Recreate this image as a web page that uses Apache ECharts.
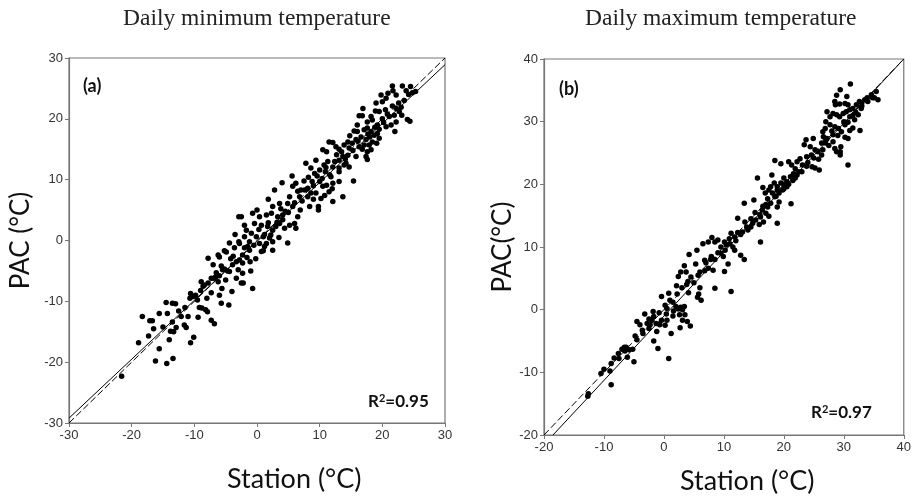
<!DOCTYPE html>
<html><head><meta charset="utf-8">
<script src="https://cdn.jsdelivr.net/npm/echarts@6/dist/echarts.min.js"></script>
<style>html,body{margin:0;padding:0;background:#fff}#c{width:914px;height:502px}</style>
</head><body><div id="c"></div>
<script>
// ---- Data ----
const minTicks = [-30,-20,-10,0,10,20,30];
const maxTicks = [-20,-10,0,10,20,30,40];
// Daily minimum: [station, PAC]
const minPoints = [
[-21.6,-22.3],[-18.9,-16.8],[-18.3,-12.5],[-17.1,-13.2],[-16.7,-13.2],[-17.3,-15.7],[-15.6,-12.0],[-15.6,-17.8],[-16.2,-19.8],[-14.4,-20.2],
[-14.5,-10.2],[-14.3,-12.0],[-13.5,-10.3],[-13.0,-10.4],[-13.5,-13.4],[-13.3,-15.0],[-13.8,-14.9],[-12.9,-14.3],[-13.4,-19.4],[-12.1,-12.5],
[-11.6,-13.9],[-11.3,-14.3],[-11.0,-12.5],[-10.6,-16.8],[-10.1,-15.9],[-10.6,-8.7],[-10.2,-9.2],[-10.7,-9.5],[-9.4,-12.6],[-8.9,-6.8],
[-8.8,-11.1],[-8.2,-11.4],[-7.9,-11.7],[-7.3,-13.1],[-6.8,-13.7],[-7.3,-8.6],[-8.4,-7.3],[-7.8,-2.9],[-7.3,-6.2],[-6.6,-6.0],
[-5.7,-10.3],[-5.6,-7.9],[-4.5,-10.6],[-4.0,-8.4],[-6.0,-2.7],[-5.7,-4.2],[-5.2,-4.7],[-4.7,-5.0],[-4.9,-1.9],[-3.3,-6.2],
[-6.2,-2.4],[-5.2,-1.7],[-3.9,-4.0],[-3.3,-3.5],[-2.8,-3.2],[-4.4,-5.1],[-5.5,-4.8],[-6.5,-5.3],[-6.9,-6.2],[-7.8,-7.0],
[-8.6,-7.5],[-9.8,-9.0],[-9.0,-8.2],[-4.4,-0.4],[-2.9,-0.2],[-2.9,3.9],[-1.2,-1.6],[-2.3,-2.4],[-2.3,-3.7],[-2.3,-5.4],
[-2.5,-7.0],[-2.2,-7.0],[-0.7,-7.9],[-1.1,-3.5],[0.7,-1.8],[1.0,-1.7],[2.5,-1.6],[-2.8,-0.5],[-2.5,3.9],[-1.2,-0.2],
[0.4,-0.5],[1.5,-0.5],[2.5,-0.2],[4.9,-0.4],[-2.0,0.6],[-1.7,1.7],[-0.9,1.2],[-0.1,0.6],[1.0,0.6],[2.0,0.4],
[-0.7,4.5],[0.4,3.9],[-0.4,2.8],[0.7,2.5],[1.7,2.3],[2.5,1.7],[3.0,2.3],[1.5,4.2],[2.3,4.5],[2.5,5.6],
[3.3,3.9],[4.1,4.2],[4.1,3.4],[3.6,2.8],[6.5,3.9],[6.0,2.8],[5.2,2.5],[2.8,8.3],[3.6,6.1],[4.9,6.1],
[5.7,5.6],[5.2,7.2],[6.8,7.2],[6.5,8.1],[5.7,8.9],[5.6,10.6],[6.2,9.4],[7.0,8.3],[8.1,7.2],[8.4,5.6],
[9.8,5.6],[9.8,5.0],[10.2,6.9],[10.5,8.9],[9.4,7.8],[8.6,7.8],[7.6,8.3],[8.1,8.6],[8.8,9.7],[7.8,12.7],
[8.6,11.9],[9.2,11.0],[10.0,9.7],[11.1,9.1],[11.5,8.0],[12.1,6.4],[13.7,7.2],[15.4,9.8],[12.1,9.4],[13.1,9.7],
[13.1,11.3],[10.9,11.3],[10.0,11.6],[9.4,13.2],[10.7,12.4],[11.3,13.0],[12.1,12.1],[15.8,13.8],[14.7,12.1],[13.9,12.4],
[13.1,11.9],[14.2,12.7],[13.7,13.8],[13.1,13.2],[12.7,14.1],[11.1,14.6],[10.5,14.9],[13.1,15.0],[12.6,15.4],[12.1,16.1],
[11.5,16.2],[13.9,15.7],[14.5,16.2],[14.7,15.2],[17.6,13.3],[17.4,13.8],[18.2,14.9],[17.6,14.6],[19.5,16.8],[19.1,16.0],
[18.4,16.2],[17.9,15.7],[17.1,15.7],[16.3,15.4],[15.2,16.0],[15.8,16.6],[16.6,17.0],[17.4,16.6],[18.0,17.0],[19.2,17.6],
[18.7,17.3],[18.2,17.9],[17.6,18.5],[17.1,18.2],[16.0,17.9],[15.5,18.0],[22.0,17.9],[20.6,18.7],[16.3,20.5],[17.6,19.5],
[18.4,19.8],[18.2,20.4],[16.8,20.5],[16.9,21.7],[21.1,20.4],[22.2,19.5],[24.4,19.6],[24.0,19.9],[23.1,20.6],[21.9,20.6],
[22.7,21.2],[22.2,21.7],[21.6,22.1],[20.5,21.5],[19.5,21.2],[18.9,21.3],[19.0,22.6],[20.0,22.8],[20.6,23.4],[22.2,23.9],
[25.3,24.5],[24.8,24.3],[24.5,25.3],[23.8,24.6],[23.2,25.4],[21.7,24.6],[21.6,25.4],[20.0,20.0],[19.2,19.0],[14.5,14.0],
[11.8,10.5],[9.0,9.0],[7.2,6.5],[4.5,4.8],[3.2,3.0],[1.2,1.0],[-1.5,-1.0],[-3.8,-2.6],[-6.2,-6.8],[-9.5,-9.8],
[-7.0,-4.0],[-6.0,-5.8],[-4.2,-3.0],[-3.6,-1.2],[-2.0,-1.2],[-1.6,-2.8],[-0.5,-0.8],[0.3,1.8],[1.8,2.9],[2.2,0.9],
[3.8,5.2],[4.4,2.0],[5.0,4.6],[6.0,6.2],[6.9,5.0],[7.5,9.8],[8.2,10.4],[9.0,6.8],[9.6,10.6],[10.4,10.2],
[11.0,12.0],[11.6,10.8],[12.4,13.0],[13.5,14.6],[14.1,13.4],[14.8,17.2],[15.3,14.8],[16.1,16.3],[16.8,15.0],[17.7,17.5],
[18.8,18.6],[19.5,18.3],[20.2,19.4],[20.8,20.8],[21.4,19.0],[22.6,22.6],[23.5,23.0],[24.2,24.0],[19.8,23.9],[20.9,24.2],
[23.0,21.9],[16.0,19.0],[12.0,8.5],[10.8,7.4],[6.2,2.0],[3.5,0.5],[1.2,-1.0],[-0.2,-3.0],[-1.0,-5.0],[-3.0,-4.8],
[-5.0,-6.5],[-6.0,-9.0],[-8.0,-9.5],[-9.2,-11.0],[-11.5,-11.0],[-12.5,-11.6],[-15.0,-14.2],[-14.0,-16.3],[-16.5,-14.5],[-2.0,2.5],
[-3.5,1.0],[0.0,5.0],[1.8,6.8],[4.0,9.5]
];
// Daily maximum: [station, PAC]
const maxPoints = [
[-12.7,-13.8],[-12.6,-13.4],[-10.5,-10.2],[-8.8,-12.0],[-8.3,-7.7],[-7.0,-6.3],[-6.6,-6.0],[-6.3,-6.0],[-6.5,-6.6],[-5.8,-6.4],
[-6.1,-7.6],[-5.0,-8.3],[-5.2,-6.3],[-4.5,-1.9],[-4.0,-2.4],[-3.2,-0.7],[-3.6,-3.3],[-2.8,-2.2],[-2.3,-2.4],[-2.0,-1.7],
[-1.7,-1.1],[-1.3,-2.2],[-1.2,-3.5],[-1.7,-5.0],[-1.0,-6.2],[-0.7,-2.4],[-0.4,-1.7],[-0.4,2.1],[0.2,0.7],[0.4,-0.7],
[0.2,-2.5],[0.5,-1.7],[1.2,-3.8],[0.8,-7.8],[0.8,2.6],[1.6,-0.2],[2.0,0.5],[2.1,3.8],[2.4,5.3],[2.8,6.0],
[3.4,7.0],[3.7,6.0],[2.4,0.1],[2.8,0.4],[3.1,0.0],[3.4,0.5],[2.6,-0.8],[3.1,-1.7],[2.7,-2.9],[3.9,-1.9],
[4.4,-2.6],[4.1,2.7],[5.3,7.3],[5.6,2.0],[8.5,3.4],[11.2,2.9],[6.2,1.5],[5.8,2.5],[10.1,6.1],[10.7,7.3],
[12.8,8.7],[13.4,8.0],[11.8,9.5],[7.9,8.5],[9.0,9.1],[6.8,7.9],[7.4,6.6],[8.2,6.3],[5.7,5.5],[9.9,8.5],
[5.5,9.5],[6.5,10.5],[4.2,8.8],[7.4,10.8],[8.5,10.8],[9.0,11.1],[10.1,10.8],[10.9,11.3],[11.2,12.2],[10.4,10.3],
[11.5,10.0],[11.8,11.6],[12.3,12.3],[13.1,12.4],[14.0,12.7],[16.1,10.8],[18.9,13.8],[12.3,14.6],[13.4,17.0],[14.5,13.2],
[15.9,13.6],[14.8,13.8],[16.6,14.0],[15.3,14.3],[16.1,14.8],[17.5,14.9],[17.0,15.4],[16.4,15.9],[21.2,16.9],[18.9,16.4],
[17.3,16.4],[17.3,17.7],[19.2,17.2],[16.9,18.6],[15.6,21.0],[18.7,18.1],[18.1,18.6],[17.5,19.1],[17.8,19.6],[18.4,20.2],
[18.9,19.6],[18.9,19.1],[19.8,19.1],[20.0,19.3],[20.5,19.6],[19.5,20.2],[20.0,21.0],[21.9,21.0],[20.5,20.4],[21.1,21.2],
[18.5,23.8],[19.5,23.3],[20.8,23.6],[21.3,23.1],[21.6,21.7],[21.9,22.5],[25.9,22.3],[25.2,22.6],[24.7,22.8],[23.8,22.9],
[23.1,23.1],[22.2,23.6],[22.7,24.1],[24.6,24.7],[23.8,24.4],[23.4,26.3],[26.3,24.7],[25.7,25.2],[25.2,25.5],[24.4,26.0],
[24.9,27.3],[23.7,27.1],[30.7,23.1],[29.4,24.7],[29.4,25.2],[28.8,25.2],[28.5,25.7],[26.3,26.6],[26.9,26.6],[28.2,26.8],
[26.5,28.4],[28.2,27.9],[27.2,27.3],[26.6,27.6],[26.9,28.9],[27.7,29.5],[28.5,29.2],[29.1,28.9],[29.6,28.4],[30.2,27.5],
[30.7,27.3],[31.0,28.6],[30.2,29.5],[30.7,29.9],[32.7,28.6],[31.8,30.3],[32.4,31.1],[32.9,32.1],[35.7,33.5],[35.1,33.8],
[35.4,34.8],[34.6,34.3],[33.9,33.8],[33.5,33.5],[32.6,33.2],[32.1,32.7],[31.5,32.1],[31.0,31.9],[30.4,31.6],[29.9,31.3],
[29.3,30.8],[28.8,31.1],[27.2,31.6],[27.7,30.8],[28.2,31.3],[30.7,32.7],[30.2,32.9],[29.3,32.8],[28.6,32.7],[28.5,33.2],
[29.4,35.1],[31.1,36.0],[33.0,33.0],[31.5,31.0],[27.0,27.0],[22.5,22.0],[16.5,16.5],[13.5,14.0],[9.5,10.0],[7.0,7.5],
[4.0,4.5],[1.0,1.5],[-2.5,-1.5],[-4.8,-4.2],[-7.6,-7.0],[-8.8,-8.6],
[-10.0,-9.5],[-9.0,-9.8],[-7.5,-7.8],[-4.5,-4.8],[-3.5,-3.8],[-2.5,-3.0],[-1.8,-0.3],[-0.8,-0.5],[0.5,0.2],[1.5,1.2],
[2.2,2.5],[3.0,3.5],[3.8,4.0],[4.5,5.2],[5.0,4.3],[6.0,6.0],[6.8,6.2],[7.8,8.0],[8.5,8.0],[9.5,9.0],
[10.2,9.5],[11.0,10.5],[12.0,11.0],[12.8,12.0],[13.8,13.2],[14.5,14.5],[15.2,15.5],[16.0,15.2],[17.0,16.8],[17.8,17.0],
[18.5,18.0],[19.2,18.6],[20.0,20.0],[20.8,20.0],[21.5,20.6],[22.2,21.5],[23.0,22.0],[24.0,23.5],[25.0,24.2],[25.8,24.0],
[26.5,25.5],[27.5,26.2],[28.0,28.5],[29.0,27.8],[30.0,30.0],[31.0,30.8],[32.0,31.5],[33.0,32.5],[34.0,33.2],[34.8,33.8],
[30.5,34.0],[28.8,34.2],[27.0,30.0],[31.5,29.0],[29.5,26.0],[18.0,21.5],[16.5,19.5],[15.0,17.5],[8.0,11.5],[6.0,3.5],
[3.5,-0.8],[1.5,-1.0]
];
// Fit and 1:1 lines
const minFit = [[-30,-29.2],[30,28.9]];
const minOne = [[-30,-30],[30,30]];
const maxFit = [[-18.5,-20],[40,40]];
const maxOne = [[-20,-20],[40,40]];

const tickFont = {fontFamily:'"Liberation Sans Narrow","Arial Narrow","Liberation Sans",sans-serif',fontSize:13,color:'#333'};
const nameFont = {fontFamily:'Lato,"Open Sans",sans-serif',fontSize:26,color:'#111'};
function axis(min,max,name,gap,idx,rot){
  return {type:'value',gridIndex:idx,min:min,max:max,interval:10,name:name,nameLocation:'middle',nameGap:gap,
    nameRotate:rot,nameTextStyle:nameFont,
    axisLine:{show:true,onZero:false,lineStyle:{color:'#777',width:1.2}},
    axisTick:{show:true,length:4,lineStyle:{color:'#777'}},
    axisLabel:Object.assign({margin:6},tickFont),splitLine:{show:false}};
}
const chart = echarts.init(document.getElementById('c'),null,{renderer:'canvas'});
const sc = (data,x)=>({type:'scatter',xAxisIndex:x,yAxisIndex:x,data:data,symbol:'circle',symbolSize:5.5,itemStyle:{color:'#000',opacity:1},silent:true,z:3});
const ln = (data,x,dash)=>({type:'line',xAxisIndex:x,yAxisIndex:x,data:data,symbol:'none',silent:true,z:4,
  lineStyle:{color:'#000',width:1,type:dash?[7,3]:'solid'}});
const xa0 = axis(minTicks[0],minTicks[minTicks.length-1],'',0,0,0);
const xa1 = axis(maxTicks[0],maxTicks[maxTicks.length-1],'',0,1,0);
chart.setOption({
  animation:false,
  backgroundColor:'#fff',
  grid:[{left:69,top:58,width:376,height:365,show:true,borderColor:'#777',borderWidth:1.2},
        {left:544,top:59,width:364,height:376,show:true,borderColor:'#777',borderWidth:1.2}],
  xAxis:[xa0,xa1],
  yAxis:[axis(minTicks[0],minTicks[minTicks.length-1],'PAC (°C)',35,0,90),
         axis(maxTicks[0],maxTicks[maxTicks.length-1],'PAC(°C)',18,1,90)],
  series:[sc(minPoints,0),ln(minFit,0,false),ln(minOne,0,true),
          sc(maxPoints,1),ln(maxFit,1,false),ln(maxOne,1,true)],
  graphic:[
    {type:'text',left:123,top:7,style:{text:'Daily minimum temperature',font:'23.5px "Liberation Serif",serif',fill:'#222'}},
    {type:'text',left:585,top:7,style:{text:'Daily maximum temperature',font:'23.5px "Liberation Serif",serif',fill:'#222'}},
    {type:'text',left:227,top:466,style:{text:'Station (°C)',font:'27px Lato,sans-serif',fill:'#111'}},
    {type:'text',left:680,top:468,style:{text:'Station (°C)',font:'27px Lato,sans-serif',fill:'#111'}},
    {type:'text',left:83,top:77,style:{text:'(a)',font:'bold 18px Lato,sans-serif',fill:'#111'}},
    {type:'text',left:559,top:80,style:{text:'(b)',font:'bold 18px Lato,sans-serif',fill:'#111'}},
    {type:'text',left:368,top:393,style:{text:'R{s|2}=0.95',font:'bold 17px Lato,sans-serif',fill:'#111',
      rich:{s:{fontSize:11,fontWeight:'bold',fontFamily:'Lato',verticalAlign:'top',padding:[0,0,6,0]}}}},
    {type:'text',left:811,top:404,style:{text:'R{s|2}=0.97',font:'bold 17px Lato,sans-serif',fill:'#111',
      rich:{s:{fontSize:11,fontWeight:'bold',fontFamily:'Lato',verticalAlign:'top',padding:[0,0,6,0]}}}}
  ]
});
</script></body></html>
